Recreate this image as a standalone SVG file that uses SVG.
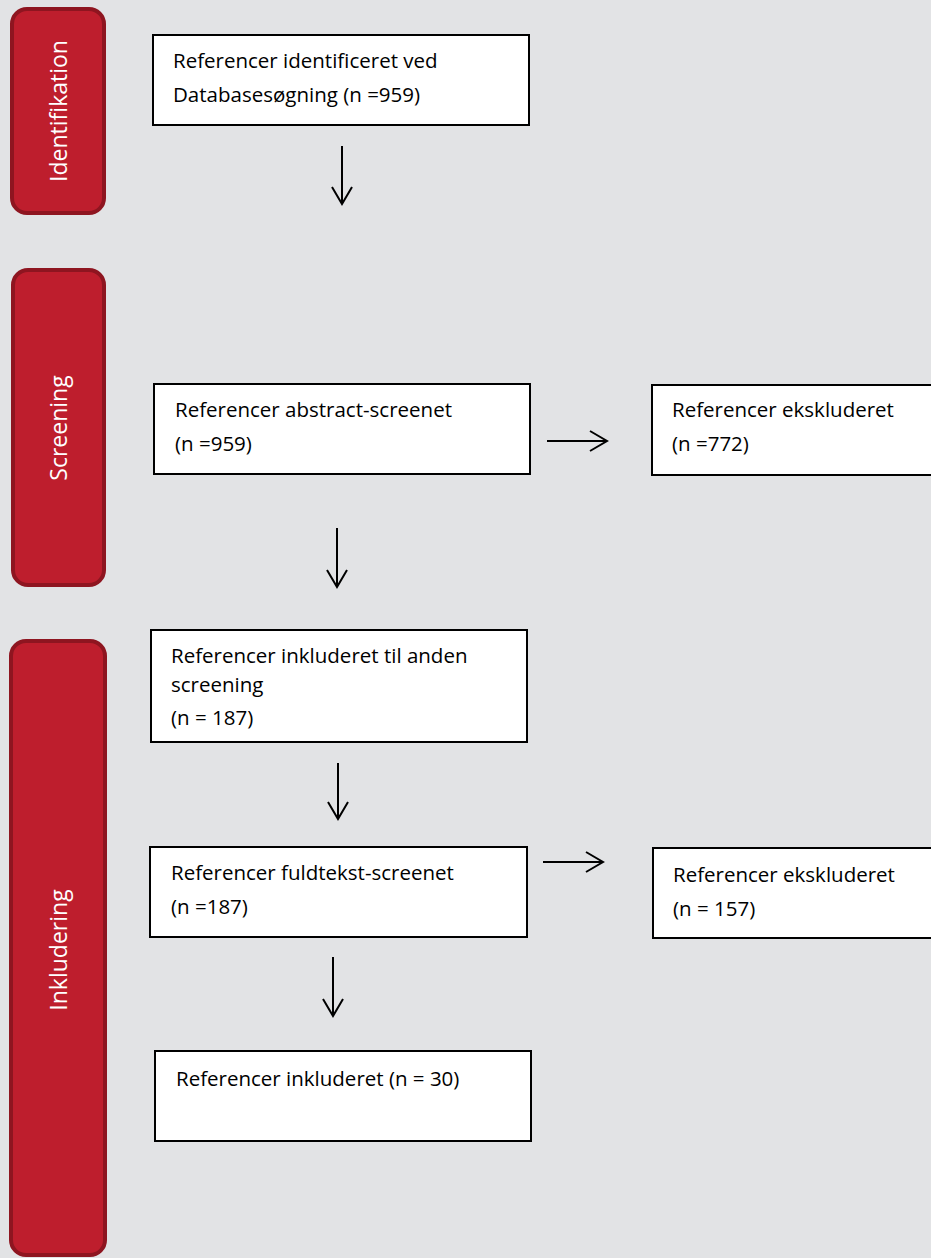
<svg xmlns="http://www.w3.org/2000/svg" width="931" height="1258" viewBox="0 0 931 1258">
<style>
.bg{fill:#e2e3e5}
.bar{fill:#be1e2d;stroke:#8e1520;stroke-width:4}
.bt{fill:#ffffff;font-family:"Open Sans","Noto Sans",sans-serif;font-size:23px;text-anchor:middle}
.box{fill:#ffffff;stroke:#000000;stroke-width:2}
.t{fill:#000000;font-family:"Open Sans","Noto Sans",sans-serif;font-size:20.5px}
.c{fill:none;stroke:#000000;stroke-width:2}
</style>
<rect class="bg" x="0" y="0" width="931" height="1258"/>
<g id="phase-identifikation">
<rect class="bar" x="12" y="9" width="92" height="204" rx="15"/>
<text class="bt" transform="translate(67 111) rotate(-90)">Identifikation</text>
</g>
<g id="phase-screening">
<rect class="bar" x="13" y="270" width="91" height="315" rx="15"/>
<text class="bt" transform="translate(67 428) rotate(-90)">Screening</text>
</g>
<g id="phase-inkludering">
<rect class="bar" x="11" y="641" width="94" height="614" rx="15"/>
<text class="bt" transform="translate(67 950) rotate(-90)">Inkludering</text>
</g>
<g id="n1">
<rect class="box" x="153" y="35" width="376" height="90"/>
<text class="t" x="173" y="68">Referencer identificeret ved</text>
<text class="t" x="173" y="102">Databasesøgning (n =959)</text>
</g>
<g id="n2">
<rect class="box" x="154" y="384" width="376" height="90"/>
<text class="t" x="175" y="417">Referencer abstract-screenet</text>
<text class="t" x="175" y="451">(n =959)</text>
</g>
<g id="n3">
<rect class="box" x="652" y="385" width="290" height="90"/>
<text class="t" x="672" y="417">Referencer ekskluderet</text>
<text class="t" x="672" y="451">(n =772)</text>
</g>
<g id="n4">
<rect class="box" x="151" y="630" width="376" height="112"/>
<text class="t" x="171" y="663">Referencer inkluderet til anden</text>
<text class="t" x="171" y="692">screening</text>
<text class="t" x="171" y="725">(n = 187)</text>
</g>
<g id="n5">
<rect class="box" x="150" y="847" width="377" height="90"/>
<text class="t" x="171" y="880">Referencer fuldtekst-screenet</text>
<text class="t" x="171" y="914">(n =187)</text>
</g>
<g id="n6">
<rect class="box" x="653" y="848" width="290" height="90"/>
<text class="t" x="673" y="882">Referencer ekskluderet</text>
<text class="t" x="673" y="916">(n = 157)</text>
</g>
<g id="n7">
<rect class="box" x="155" y="1051" width="376" height="90"/>
<text class="t" x="176" y="1086">Referencer inkluderet (n = 30)</text>
</g>
<g id="connectors">
<path class="c" d="M342 146V204M332 187L342 204L352 187"/>
<path class="c" d="M547 441H607M590 431L607 441L590 451"/>
<path class="c" d="M337 528V587M327 570L337 587L347 570"/>
<path class="c" d="M338 763V819M328 802L338 819L348 802"/>
<path class="c" d="M543 862H603M586 852L603 862L586 872"/>
<path class="c" d="M333 957V1016M323 999L333 1016L343 999"/>
</g>
</svg>
